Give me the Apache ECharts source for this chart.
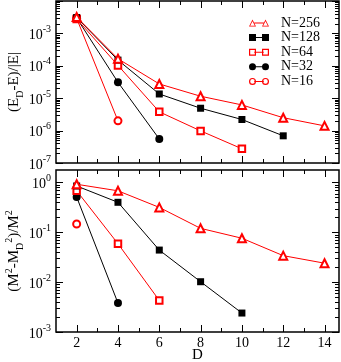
<!DOCTYPE html>
<html><head><meta charset="utf-8">
<script src="https://cdn.jsdelivr.net/npm/echarts@6/dist/echarts.min.js"></script>
<style>html,body{margin:0;padding:0;background:#fff}#c{width:341px;height:362px}</style>
</head><body><div id="c"></div>
<script>
// ---- data ----
const dimsD = [2, 4, 6, 8, 10, 12, 14];
const seriesNames = ['N=256', 'N=128', 'N=64', 'N=32', 'N=16'];
// top panel: (E_D - E)/|E|
const errN256 = [3.2e-3, 1.65e-4, 2.75e-5, 1.15e-5, 6.2e-6, 2.5e-6, 1.4e-6];
const errN128 = [3.1e-3, 1.5e-4, 1.35e-5, 4.9e-6, 2.2e-6, 6.9e-7];
const errN64  = [2.8e-3, 1.03e-4, 3.8e-6, 9.8e-7, 2.75e-7];
const errN32  = [3.0e-3, 3.1e-5, 5.5e-7];
const errN16  = [2.9e-3, 2.0e-6];
// bottom panel: (M^2 - M_D^2)/M^2
const magN256 = [0.92, 0.68, 0.316, 0.12, 0.076, 0.034, 0.024];
const magN128 = [0.85, 0.40, 0.044, 0.0102, 0.0024];
const magN64  = [0.68, 0.059, 0.0043];
const magN32  = [0.51, 0.0038];
const magN16  = [0.147];
// tick labels
const xTickLabels = ['2', '4', '6', '8', '10', '12', '14'];
const xMinorTicks = [3, 5, 7, 9, 11, 13];
const yTopDecades = [-7, -6, -5, -4, -3, -2];
const yTopLabelExps = [-7, -6, -5, -4, -3];
const yBotDecades = [-3, -2, -1, 0];
const yBotLabelExps = [-3, -2, -1, 0];

// ---- styles ----
const FONT = 'Liberation Serif';
const RED = '#ff0000', BLK = '#000000';
const styles = {
  'N=256': {color: RED, symbol: 'emptyTriangle', size: 8},
  'N=128': {color: BLK, symbol: 'rect', size: 7},
  'N=64':  {color: RED, symbol: 'emptyRect', size: 6.5},
  'N=32':  {color: BLK, symbol: 'circle', size: 8},
  'N=16':  {color: RED, symbol: 'emptyCircle', size: 7}
};
const LINK = ' M52,30 L148,30 L148,40 L52,40 Z';
function tri(o, hollow) {
  let p = 'M' + o + ',70 L' + (o + 35) + ',0 L' + (o + 70) + ',70 Z';
  if (hollow) p += ' M' + (o + 12) + ',63 L' + (o + 58) + ',63 L' + (o + 35) + ',17 Z';
  return p;
}
function sq(o, hollow) {
  let p = 'M' + o + ',0 L' + (o + 70) + ',0 L' + (o + 70) + ',70 L' + o + ',70 Z';
  if (hollow) p += ' M' + (o + 12) + ',12 L' + (o + 12) + ',58 L' + (o + 58) + ',58 L' + (o + 58) + ',12 Z';
  return p;
}
function circ(o, hollow) {
  let p = 'M' + o + ',35 A35,35 0 1,1 ' + (o + 70) + ',35 A35,35 0 1,1 ' + o + ',35 Z';
  if (hollow) p += ' M' + (o + 12) + ',35 A23,23 0 1,0 ' + (o + 58) + ',35 A23,23 0 1,0 ' + (o + 12) + ',35 Z';
  return p;
}
const icons = {
  'N=256': 'path://' + tri(0, true) + LINK + ' ' + tri(130, true),
  'N=128': 'path://' + sq(0, false) + LINK + ' ' + sq(130, false),
  'N=64':  'path://' + sq(0, true) + LINK + ' ' + sq(130, true),
  'N=32':  'path://' + circ(0, false) + LINK + ' ' + circ(130, false),
  'N=16':  'path://' + circ(0, true) + LINK + ' ' + circ(130, true)
};

function mkLine(name, vals, gi) {
  const st = styles[name];
  return {
    type: 'line', name: name, xAxisIndex: gi, yAxisIndex: gi,
    data: vals.map((v, i) => [dimsD[i], v]),
    symbol: st.symbol, symbolSize: st.size, showAllSymbol: true,
    color: st.color, lineStyle: {color: st.color, width: 1},
    itemStyle: {color: st.color}, emphasis: {disabled: true}, silent: true
  };
}

const X_MIN = 1, X_MAX = 14.7;
const TOP_MIN = 1e-7, TOP_MAX = 1e-2, BOT_MIN = 1e-3, BOT_MAX = Math.pow(10, 0.25);

function tickSeries(gi, yMin, decades, yMaxVal) {
  const data = [];
  dimsD.forEach(v => data.push([v, yMin, 0]));
  xMinorTicks.forEach(v => data.push([v, yMin, 1]));
  decades.forEach(k => {
    data.push([X_MIN, Math.pow(10, k), 2]);
    for (let m = 2; m <= 9; m++) {
      const v = m * Math.pow(10, k);
      if (v < yMaxVal) data.push([X_MIN, v, 3]);
    }
  });
  return {
    type: 'custom', xAxisIndex: gi, yAxisIndex: gi, silent: true, clip: false, z: 10,
    data: data,
    renderItem: function (params, api) {
      const cs = params.coordSys;
      const kind = api.value(2);
      const p = api.coord([api.value(0), api.value(1)]);
      const st = {stroke: '#000', lineWidth: 1};
      if (kind <= 1) {
        const len = kind === 0 ? 7 : 4;
        const x = Math.round(p[0]) + 0.5;
        const yb = cs.y + cs.height, yt = cs.y;
        return {type: 'group', children: [
          {type: 'line', shape: {x1: x, y1: yb, x2: x, y2: yb - len}, style: st},
          {type: 'line', shape: {x1: x, y1: yt, x2: x, y2: yt + len}, style: st}
        ]};
      } else {
        const len = kind === 2 ? 7 : 4;
        const y = Math.round(p[1]) + 0.5;
        const xl = cs.x, xr = cs.x + cs.width;
        return {type: 'group', children: [
          {type: 'line', shape: {x1: xl, y1: y, x2: xl + len, y2: y}, style: st},
          {type: 'line', shape: {x1: xr, y1: y, x2: xr - len, y2: y}, style: st}
        ]};
      }
    }
  };
}

function makeLogLabel(exps) {
  return function (v) {
    const e = Math.log10(v);
    const r = Math.round(e);
    if (Math.abs(e - r) > 1e-6 || exps.indexOf(r) < 0) return '';
    return '{b|10}{s|' + r + '}';
  };
}
const logRich = {
  b: {fontFamily: FONT, fontSize: 14, color: '#000', verticalAlign: 'bottom'},
  s: {fontFamily: FONT, fontSize: 10, color: '#000', verticalAlign: 'bottom', padding: [0, 0, 8, 0]}
};
const nameRich = {
  n: {fontFamily: FONT, fontSize: 15, color: '#000', verticalAlign: 'middle'},
  sub: {fontFamily: FONT, fontSize: 10, color: '#000', verticalAlign: 'bottom', padding: [11, 0, 0, 0]},
  sup: {fontFamily: FONT, fontSize: 10, color: '#000', verticalAlign: 'top', padding: [0, 0, 11, 0]}
};

const gridBase = {left: 56, width: 283, height: 162, show: true, borderColor: '#000', borderWidth: 1.5,
  backgroundColor: 'transparent', containLabel: false, outerBoundsMode: 'none'};

const xBase = {type: 'value', min: X_MIN, max: X_MAX, interval: 1,
  axisTick: {show: false}, axisLine: {show: false}, splitLine: {show: false}};

const option = {
  animation: false,
  backgroundColor: '#fff',
  grid: [Object.assign({top: 1}, gridBase), Object.assign({top: 170}, gridBase)],
  legend: {
    orient: 'vertical', left: 249, top: 16, padding: 0, itemWidth: 20, itemHeight: 7, itemGap: 0.6,
    selectedMode: false, itemStyle: {borderWidth: 0},
    data: seriesNames.map(n => ({name: n, icon: icons[n]})),
    textStyle: {fontFamily: FONT, fontSize: 14, color: '#000', lineHeight: 13, padding: [0, 0, 0, 7]}
  },
  xAxis: [
    Object.assign({gridIndex: 0, axisLabel: {show: false}}, xBase),
    Object.assign({gridIndex: 1, name: 'D', nameLocation: 'middle', nameGap: 16, nameMoveOverlap: false,
      nameTextStyle: {fontFamily: FONT, fontSize: 15, color: '#000'},
      axisLabel: {show: true, margin: 4, fontFamily: FONT, fontSize: 14, color: '#000',
        formatter: function (v) { const s = String(Math.round(v)); return (Math.abs(v - Math.round(v)) < 1e-9 && xTickLabels.indexOf(s) >= 0) ? s : ''; }}
    }, xBase)
  ],
  yAxis: [
    {type: 'log', logBase: 10, gridIndex: 0, min: TOP_MIN, max: TOP_MAX,
      axisTick: {show: false}, axisLine: {show: false}, splitLine: {show: false}, minorTick: {show: false},
      axisLabel: {margin: 5, formatter: makeLogLabel(yTopLabelExps), rich: logRich},
      name: '{n|(E}{sub|D}{n|-E)/|E|}', nameLocation: 'middle', nameGap: 31, nameRotate: 90, nameMoveOverlap: false,
      nameTextStyle: {rich: nameRich}},
    {type: 'log', logBase: 10, gridIndex: 1, min: BOT_MIN, max: BOT_MAX,
      axisTick: {show: false}, axisLine: {show: false}, splitLine: {show: false}, minorTick: {show: false},
      axisLabel: {margin: 5, formatter: makeLogLabel(yBotLabelExps), rich: logRich},
      name: '{n|(M}{sup|2}{n|-M}{sub|D}{sup|2}{n|)/M}{sup|2}', nameLocation: 'middle', nameGap: 31, nameRotate: 90, nameMoveOverlap: false,
      nameTextStyle: {rich: nameRich}}
  ],
  series: [
    mkLine('N=16', errN16, 0), mkLine('N=32', errN32, 0), mkLine('N=64', errN64, 0),
    mkLine('N=128', errN128, 0), mkLine('N=256', errN256, 0),
    mkLine('N=16', magN16, 1), mkLine('N=32', magN32, 1), mkLine('N=64', magN64, 1),
    mkLine('N=128', magN128, 1), mkLine('N=256', magN256, 1),
    tickSeries(0, TOP_MIN, yTopDecades, TOP_MAX * 1.0001),
    tickSeries(1, BOT_MIN, yBotDecades, BOT_MAX)
  ]
};
const chart = echarts.init(document.getElementById('c'), null, {renderer: 'canvas'});
chart.setOption(option);
</script>
</body></html>
